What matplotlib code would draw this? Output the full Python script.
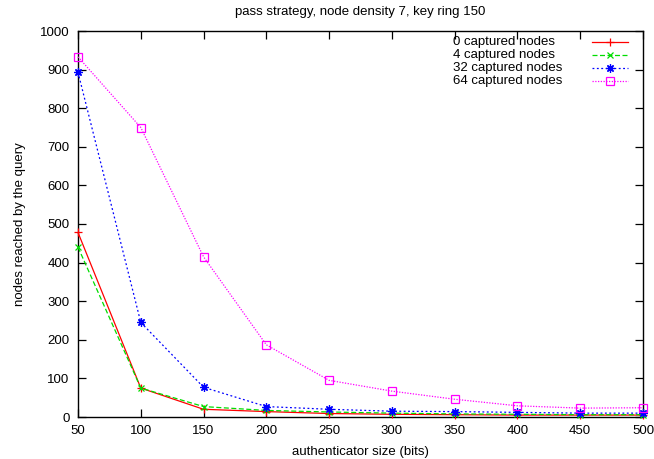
import numpy as np
import matplotlib
matplotlib.use('Agg')
import matplotlib.pyplot as plt

# 数据
sizes = [50, 100, 150, 200, 250, 300, 350, 400, 450, 500]
captured_0 = [478, 75, 20, 14, 9, 7, 6, 5, 5, 5]
captured_4 = [440, 75, 27, 17, 13, 10, 8, 7, 6, 6]
captured_32 = [893, 245, 77, 27, 20, 15, 14, 12, 10, 10]
captured_64 = [933, 750, 415, 187, 95, 67, 46, 29, 23, 24]
labels = ['0 captured nodes', '4 captured nodes', '32 captured nodes', '64 captured nodes']

plt.rcParams['font.family'] = ['Liberation Sans', 'DejaVu Sans']
plt.rcParams['font.size'] = 9.5

fig = plt.figure(figsize=(6.54, 4.59), dpi=100)
ax = fig.add_axes([78 / 654, 1 - 417 / 459, 565 / 654, 386 / 459])

styles = [
    dict(color='#ff0000', linestyle='-', marker='+', ms=6, mew=0.9),
    dict(color='#00dd00', linestyle=(0, (4, 2)), marker='x', ms=5, mew=0.9),
    dict(color='#0000ff', linestyle=(0, (1.5, 2)), marker=(8, 2, 0), ms=6, mew=0.9),
    dict(color='#ff00ff', linestyle=(0, (1, 1.2)), marker='s', ms=5.5, mew=0.9, mfc='none'),
]
series = [captured_0, captured_4, captured_32, captured_64]

for ys, st in zip(series, styles):
    ax.plot(sizes, ys, lw=0.9, clip_on=False, zorder=3, **st)

# 图例 (gnuplot 风格: 文字在左, 线样在右)
row_y = [0.972, 0.938, 0.904, 0.870]
for lab, st, yy in zip(labels, styles, row_y):
    ax.text(0.664, yy, lab, transform=ax.transAxes, ha='left', va='center', fontsize=9.5)
    ax.plot([0.910, 0.942, 0.973], [yy, yy, yy], transform=ax.transAxes,
            lw=0.9, markevery=[1], **st)

ax.set_xlim(50, 500)
ax.set_ylim(0, 1000)
ax.set_xticks(np.arange(50, 501, 50))
ax.set_yticks(np.arange(0, 1001, 100))
ax.tick_params(direction='in', length=6, width=0.9, top=True, right=True, pad=6)
for sp in ax.spines.values():
    sp.set_linewidth(1.0)

ax.set_xlabel('authenticator size (bits)', labelpad=6)
ax.set_ylabel('nodes reached by the query', labelpad=10)
fig.text(0.5 * (78 + 643) / 654, 1 - 12 / 459, 'pass strategy, node density 7, key ring 150',
         ha='center', va='center', fontsize=9.5)

plt.savefig('out.png', dpi=100)
